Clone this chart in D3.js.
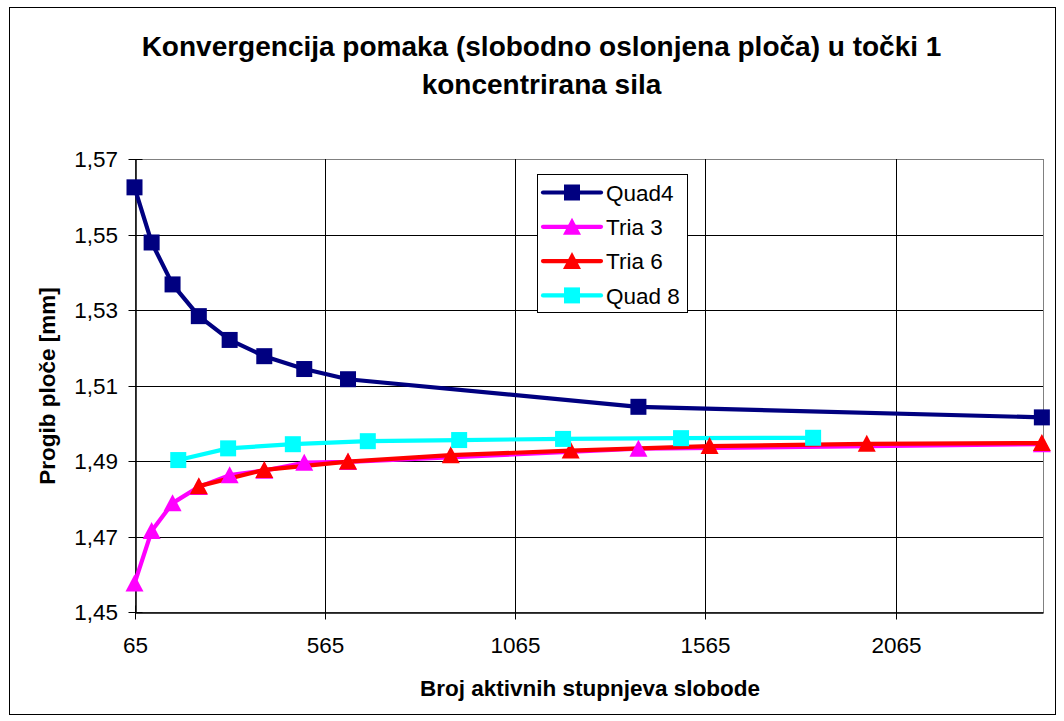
<!DOCTYPE html>
<html>
<head>
<meta charset="utf-8">
<script src="https://cdn.jsdelivr.net/npm/d3@7"></script>
<style>
  html, body { margin: 0; padding: 0; background: #fff; }
  svg { display: block; font-family: "Liberation Sans", Arial, sans-serif; }
</style>
</head>
<body>
<svg id="chart" width="1064" height="721"></svg>
<script>
// Displacement convergence of a simply supported plate, point 1, concentrated load
const titleLines = ["Konvergencija pomaka (slobodno oslonjena ploča) u točki 1", "koncentrirana sila"];
const xTitle = "Broj aktivnih stupnjeva slobode";
const yTitle = "Progib ploče [mm]";
const xTicks = [65, 565, 1065, 1565, 2065];
const yTicks = [1.45, 1.47, 1.49, 1.51, 1.53, 1.55, 1.57];
const seriesNames = ["Quad4", "Tria 3", "Tria 6", "Quad 8"];

const quad4X = [65, 110, 165, 234, 315, 406, 511, 626, 1389, 2449];
const quad4Y = [1.5625, 1.5479, 1.5368, 1.5284, 1.5221, 1.5178, 1.5144, 1.5117, 1.5044, 1.5016];

const tria3X = [65, 110, 165, 234, 315, 406, 511, 626, 1389, 2449];
const tria3Y = [1.4576, 1.4715, 1.4789, 1.4832, 1.4863, 1.4875, 1.4896, 1.4898, 1.4933, 1.4945];

const tria6X = [234, 406, 626, 896, 1211, 1576, 1989, 2449];
const tria6Y = [1.4834, 1.4877, 1.4899, 1.4916, 1.4928, 1.4940, 1.4946, 1.4948];

const quad8X = [180, 311, 481, 678, 918, 1191, 1501, 1848];
const quad8Y = [1.4903, 1.4934, 1.4945, 1.4953, 1.4956, 1.4959, 1.4961, 1.4962];

const seriesColors = ["#000080", "#FF00FF", "#FF0000", "#00FFFF"];
const seriesMarkers = ["square", "triangle", "triangle", "square"];

const series = [
  { name: seriesNames[0], xs: quad4X, ys: quad4Y },
  { name: seriesNames[1], xs: tria3X, ys: tria3Y },
  { name: seriesNames[2], xs: tria6X, ys: tria6Y },
  { name: seriesNames[3], xs: quad8X, ys: quad8Y }
].map((s, i) => ({
  name: s.name,
  color: seriesColors[i],
  marker: seriesMarkers[i],
  points: s.xs.map((x, j) => ({ x, y: s.ys[j] }))
}));

const svg = d3.select("#chart");
const plot = { left: 134.5, top: 159, right: 1043, bottom: 612.3 };

const x = d3.scaleLinear().domain([65, 2452]).range([plot.left, plot.right]);
const y = d3.scaleLinear().domain([1.45, 1.57]).range([plot.bottom, plot.top]);
const crisp = v => Math.round(v) + 0.5;
const fmt = d => d3.format(".2f")(d).replace(".", ",");

// chart frame
svg.append("rect")
  .attr("x", 9.5).attr("y", 7.5)
  .attr("width", 1046).attr("height", 707)
  .attr("fill", "#fff").attr("stroke", "#000").attr("stroke-width", 1);

// title
const title = svg.append("text")
  .attr("text-anchor", "middle")
  .attr("font-weight", "bold")
  .attr("font-size", 28)
  .attr("fill", "#000");
title.selectAll("tspan").data(titleLines).join("tspan")
  .attr("x", 541.5)
  .attr("y", (d, i) => 56 + i * 38)
  .text(d => d);

// plot area border
svg.append("rect")
  .attr("x", crisp(plot.left)).attr("y", crisp(plot.top))
  .attr("width", Math.round(plot.right) - Math.round(plot.left))
  .attr("height", Math.round(plot.bottom) - Math.round(plot.top))
  .attr("fill", "#fff").attr("stroke", "#808080").attr("stroke-width", 1);

// gridlines
const grid = svg.append("g").attr("stroke", "#000").attr("stroke-width", 1);
grid.selectAll("line.h").data(yTicks.slice(1, -1)).join("line")
  .attr("class", "h")
  .attr("x1", plot.left).attr("x2", plot.right)
  .attr("y1", d => crisp(y(d))).attr("y2", d => crisp(y(d)));
grid.selectAll("line.v").data(xTicks.slice(1)).join("line")
  .attr("class", "v")
  .attr("y1", plot.top).attr("y2", plot.bottom)
  .attr("x1", d => crisp(x(d))).attr("x2", d => crisp(x(d)));

// axes
const yAxis = svg.append("g")
  .attr("transform", `translate(${crisp(plot.left)},0)`)
  .call(d3.axisLeft(y).tickValues(yTicks).tickFormat(fmt).tickSize(7).tickPadding(10.5).tickSizeOuter(0));
const xAxis = svg.append("g")
  .attr("transform", `translate(0,${crisp(plot.bottom)})`)
  .call(d3.axisBottom(x).tickValues(xTicks).tickFormat(d3.format("d")).tickSize(7).tickPadding(18).tickSizeOuter(0));

[yAxis, xAxis].forEach(g => {
  g.select(".domain").attr("stroke", "#000").attr("stroke-width", 1.5);
  g.selectAll(".tick line").attr("stroke", "#000");
  g.selectAll(".tick text")
    .attr("font-family", "'Liberation Sans', Arial, sans-serif")
    .attr("font-size", 22.5).attr("fill", "#000");
});
yAxis.selectAll(".tick line").attr("x1", 7);
yAxis.selectAll(".tick").attr("transform", d => `translate(0,${crisp(y(d))})`);
xAxis.selectAll(".tick line").attr("y1", -7);
xAxis.selectAll(".tick").attr("transform", d => `translate(${crisp(x(d))},0)`);

// axis titles
svg.append("text")
  .attr("x", 590).attr("y", 696)
  .attr("text-anchor", "middle")
  .attr("font-weight", "bold").attr("font-size", 22.5)
  .text(xTitle);
svg.append("text")
  .attr("transform", "translate(55,386) rotate(-90)")
  .attr("text-anchor", "middle")
  .attr("font-weight", "bold").attr("font-size", 22.5)
  .text(yTitle);

// marker shapes
const SQ = 16, TW = 18, TH = 16;
function drawMarker(sel, type, color) {
  if (type === "square") {
    sel.append("rect")
      .attr("x", -SQ / 2).attr("y", -SQ / 2)
      .attr("width", SQ).attr("height", SQ)
      .attr("fill", color);
  } else {
    sel.append("path")
      .attr("d", `M0,${-TH / 2 - 1}L${TW / 2},${TH / 2}L${-TW / 2},${TH / 2}Z`)
      .attr("fill", color);
  }
}

const line = d3.line().x(d => x(d.x)).y(d => y(d.y));

// lines first, then markers on top, in series order
const linesG = svg.append("g");
series.forEach(s => {
  linesG.append("path")
    .attr("d", line(s.points))
    .attr("fill", "none")
    .attr("stroke", s.color)
    .attr("stroke-width", 4.2)
    .attr("stroke-linejoin", "round");
});
const markersG = svg.append("g");
series.forEach(s => {
  markersG.append("g").selectAll("g").data(s.points).join("g")
    .attr("transform", d => `translate(${x(d.x)},${y(d.y)})`)
    .each(function () { drawMarker(d3.select(this), s.marker, s.color); });
});

// legend
const legend = svg.append("g");
legend.append("rect")
  .attr("x", 537.5).attr("y", 174.5)
  .attr("width", 150).attr("height", 138)
  .attr("fill", "#fff").attr("stroke", "#000").attr("stroke-width", 1);
series.forEach((s, i) => {
  const cy = 192.5 + i * 34.3;
  const item = legend.append("g").attr("transform", `translate(0,${cy})`);
  item.append("line")
    .attr("x1", 543).attr("x2", 601).attr("y1", 0).attr("y2", 0)
    .attr("stroke", s.color).attr("stroke-width", 4.2).attr("stroke-linecap", "round");
  const m = item.append("g").attr("transform", "translate(572,0)");
  drawMarker(m, s.marker, s.color);
  item.append("text")
    .attr("x", 606).attr("y", 0).attr("dy", "0.36em")
    .attr("font-size", 22.5).attr("fill", "#000")
    .text(s.name);
});
</script>
</body>
</html>
